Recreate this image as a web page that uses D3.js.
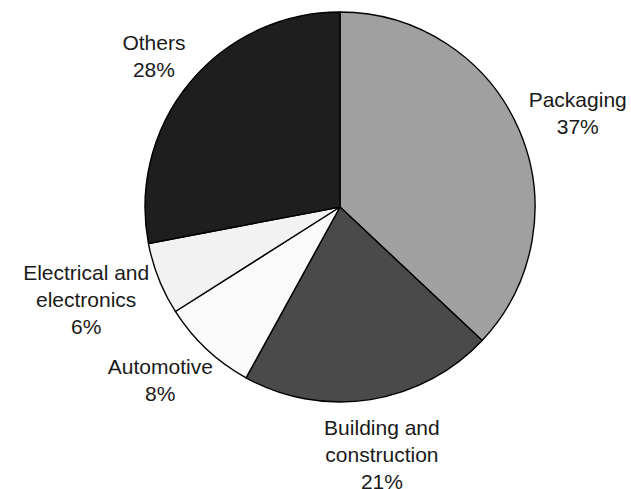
<!DOCTYPE html>
<html>
<head>
<meta charset="utf-8">
<script src="https://cdn.jsdelivr.net/npm/d3@7"></script>
<style>
  html, body { margin: 0; padding: 0; background: #ffffff; }
  svg { display: block; }
  text { font-family: "Liberation Sans", Arial, sans-serif; font-size: 21px; fill: #1a1a1a; }
</style>
</head>
<body>
<svg id="chart" width="631" height="489"></svg>
<script>
const categories = ["Packaging", "Building and construction", "Automotive", "Electrical and electronics", "Others"];
const labelLines = [["Packaging"], ["Building and", "construction"], ["Automotive"], ["Electrical and", "electronics"], ["Others"]];
const shares = [37, 21, 8, 6, 28];
const colors = ["#a0a0a0", "#4a4a4a", "#fafafa", "#f2f2f2", "#1e1e1e"];

const W = 631, H = 489;
const cx = 340, cy = 207, R = 195;
const lineH = 27, gap = 15;

const svg = d3.select("#chart");
const g = svg.append("g").attr("transform", `translate(${cx},${cy})`);

const data = categories.map((c, i) => ({ name: c, value: shares[i], lines: labelLines[i], color: colors[i] }));
const pie = d3.pie().sort(null).value(d => d.value);
const arcs = pie(data);
const arc = d3.arc().innerRadius(0).outerRadius(R);

g.selectAll("path.slice")
  .data(arcs)
  .enter().append("path")
  .attr("class", "slice")
  .attr("d", arc)
  .attr("fill", d => d.data.color)
  .attr("stroke", "#000")
  .attr("stroke-width", 1.4)
  .attr("stroke-linejoin", "round");

arcs.forEach(a => {
  const lines = a.data.lines.concat([a.data.value + "%"]);
  const mid = (a.startAngle + a.endAngle) / 2;
  const s = Math.sin(mid), c = Math.cos(mid);
  const t = g.append("text").attr("text-anchor", "middle");
  const tspans = lines.map(l => t.append("tspan").text(l));
  const w = d3.max(tspans, ts => ts.node().getComputedTextLength());
  const h = lines.length * lineH;
  const px = (R + gap) * s + s * w / 2;
  const py = -(R + gap) * c - c * h / 2;
  tspans.forEach((ts, i) => {
    ts.attr("x", px).attr("y", py - (lines.length - 1) * lineH / 2 + i * lineH).attr("dy", "0.36em");
  });
});
</script>
</body>
</html>
